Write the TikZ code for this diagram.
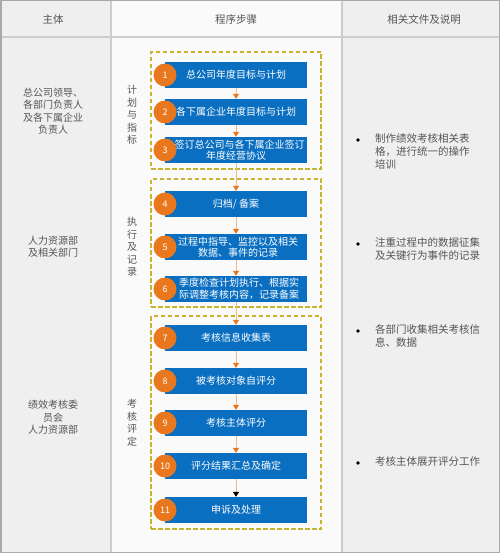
\documentclass[tikz,border=0pt]{standalone}
\usepackage{fontspec}
\setmainfont{Noto Sans CJK SC}
\usepackage{xcolor}
\usepackage{tikz}
\usetikzlibrary{arrows.meta,positioning}
\definecolor{stepblue}{HTML}{0A6FC1}
\definecolor{numorange}{HTML}{E8771E}
\definecolor{groupolive}{HTML}{C8B42C}
\definecolor{flowpeach}{HTML}{F3B98E}
\definecolor{inkgray}{HTML}{555555}
\definecolor{panelgray}{HTML}{EFEFEF}
\definecolor{panelwhite}{HTML}{FAFAFA}
\definecolor{rulegray}{HTML}{CDCDCD}
\definecolor{framegray}{HTML}{A9A9A9}

\begin{document}
\begin{tikzpicture}[
  x=1pt, y=-1pt,
  font=\fontsize{10}{12.5}\selectfont,
  stepbox/.style={fill=stepblue, text=white, minimum width=142pt, minimum height=26pt, inner sep=1pt, align=center, font=\fontsize{10}{11.5}\selectfont},
  num/.style={circle, fill=numorange, text=white, minimum size=23pt, inner sep=0pt, font=\fontsize{9}{9}\selectfont},
  group/.style={draw=groupolive, line width=1.2pt, dash pattern=on 4.5pt off 2.5pt, minimum width=170pt},
  phase/.style={text=inkgray, align=center},
  who/.style={text=inkgray, align=center},
  head/.style={text=inkgray, font=\fontsize{10.5}{12}\selectfont},
  note/.style={text=inkgray, align=left, anchor=north west, inner sep=0pt, font=\fontsize{10.5}{13}\selectfont},
  dot/.style={circle, fill=black, inner sep=0pt, minimum size=3.8pt},
  flow/.style={draw=flowpeach, line width=0.7pt, -{Triangle[length=5pt, width=6pt, color=numorange]}},
  lastflow/.style={draw=flowpeach, line width=0.7pt, -{Triangle[length=5pt, width=6pt, color=black]}},
]
\useasboundingbox (0,0) rectangle (500,553);
\fill[panelgray] (0,0) rectangle (111,553);
\fill[panelwhite] (111,0) rectangle (342,553);
\fill[panelgray] (342,0) rectangle (500,553);
\draw[rulegray, line width=1.2pt] (0,37) -- (500,37);
\draw[rulegray, line width=1.5pt] (111,0) -- (111,553) (342,0) -- (342,553);
\draw[framegray, line width=1.5pt] (0.75,0.75) rectangle (499.25,552.25);

\node[head] (h1) at (53,20) {主体};
\node[head] (h2) at (236,20) {程序步骤};
\node[head] (h3) at (424,20) {相关文件及说明};

\node[group, minimum height=117pt] (plan) at (236,110.5) {};
\node[group, minimum height=128pt] (exec) at (236,243) {};
\node[group, minimum height=213pt] (eval) at (236,422.5) {};

\node[phase] (p1) at (132,115) {计\\划\\与\\指\\标};
\node[phase] (p2) at (132,247) {执\\行\\及\\记\\录};
\node[phase] (p3) at (132,422.5) {考\\核\\评\\定};

\node[who] (w1) at (53,111) {总公司领导、\\各部门负责人\\及各下属企业\\负责人};
\node[who] (w2) at (53,246.5) {人力资源部\\及相关部门};
\node[who] (w3) at (53,417.5) {绩效考核委\\员会\\人力资源部};

\node[stepbox] (s1) at (236,75) {总公司年度目标与计划};
\node[stepbox] (s2) at (236,112) {各下属企业年度目标与计划};
\node[stepbox] (s3) at (236,150) {\hspace*{7pt}签订总公司与各下属企业签订\\年度经营协议};
\node[stepbox] (s4) at (236,204) {归档/ 备案};
\node[stepbox] (s5) at (236,247) {\hspace*{4pt}过程中指导、监控以及相关\\\hspace*{4pt}数据、事件的记录};
\node[stepbox] (s6) at (236,289) {\hspace*{6pt}季度检查计划执行、根据实\\\hspace*{6pt}际调整考核内容，记录备案};
\node[stepbox] (s7) at (236,338) {考核信息收集表};
\node[stepbox] (s8) at (236,381) {被考核对象自评分};
\node[stepbox] (s9) at (236,423) {考核主体评分};
\node[stepbox] (s10) at (236,466) {评分结果汇总及确定};
\node[stepbox] (s11) at (236,510) {申诉及处理};

\node[num] (n1) at (165,75) {1};
\node[num] (n2) at (165,112) {2};
\node[num] (n3) at (165,150) {3};
\node[num] (n4) at (165,204) {4};
\node[num] (n5) at (165,247) {5};
\node[num] (n6) at (165,289) {6};
\node[num] (n7) at (165,338) {7};
\node[num] (n8) at (165,381) {8};
\node[num] (n9) at (165,423) {9};
\node[num] (n10) at (165,466) {10};
\node[num] (n11) at (165,510) {11};

\draw[flow] (s1) -- (s2); \draw[flow] (s2) -- (s3);
\draw[flow] (s3) -- (s4); \draw[flow] (s4) -- (s5);
\draw[flow] (s5) -- (s6); \draw[flow] (s6) -- (s7);
\draw[flow] (s7) -- (s8); \draw[flow] (s8) -- (s9);
\draw[flow] (s9) -- (s10); \draw[lastflow] (s10) -- (s11);

\node[dot] (b1) at (358,140) {};
\node[note] (t1) at (375,133) {制作绩效考核相关表\\格，进行统一的操作\\培训};
\node[dot] (b2) at (358,244) {};
\node[note] (t2) at (375,237) {注重过程中的数据征集\\及关键行为事件的记录};
\node[dot] (b3) at (358,331) {};
\node[note] (t3) at (375,324) {各部门收集相关考核信\\息、数据};
\node[dot] (b4) at (358,463) {};
\node[note] (t4) at (375,456) {考核主体展开评分工作};
\end{tikzpicture}
\end{document}
